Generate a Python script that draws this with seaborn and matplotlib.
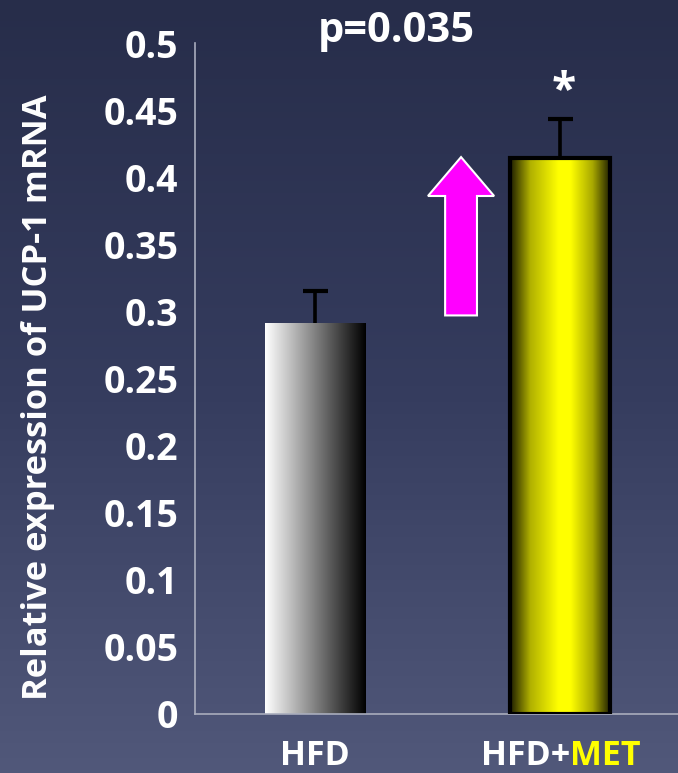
import numpy as np
import matplotlib
matplotlib.use("Agg")
import matplotlib.pyplot as plt
import seaborn as sns
import pandas as pd
from matplotlib.patches import FancyArrow
from matplotlib.colors import LinearSegmentedColormap

# ---- data ----
groups = ["HFD", "HFD+MET"]
means = [0.291, 0.414]
errors = [0.024, 0.029]
yticks = [0, 0.05, 0.1, 0.15, 0.2, 0.25, 0.3, 0.35, 0.4, 0.45, 0.5]
ytick_labels = ["0", "0.05", "0.1", "0.15", "0.2", "0.25", "0.3", "0.35", "0.4", "0.45", "0.5"]
ylabel = "Relative expression of UCP-1 mRNA"
p_label = "p=0.035"
sig_mark = "*"
arrow_from = 0.297
arrow_to = 0.415

sns.set_theme(style="white")
plt.rcParams["font.family"] = ["Open Sans", "DejaVu Sans"]
plt.rcParams["font.weight"] = "bold"

W, H = 678, 773
fig = plt.figure(figsize=(W / 100, H / 100), dpi=100)

# vertical background gradient
bg = fig.add_axes([0, 0, 1, 1], zorder=-10)
bg.axis("off")
grad = np.linspace(0, 1, 256)[:, None]
bg_cmap = LinearSegmentedColormap.from_list("bg", ["#272d4a", "#353c5e", "#51587a"])
bg.imshow(grad, aspect="auto", cmap=bg_cmap, extent=[0, 1, 0, 1], origin="upper")

ax = fig.add_axes([195 / W, 59 / H, 1 - 195 / W, 671 / H])
ax.patch.set_alpha(0)

df = pd.DataFrame({"group": groups, "value": means})
sns.barplot(data=df, x="group", y="value", ax=ax, width=0.41,
            color="white", errorbar=None, saturation=1)

bar_cmaps = [
    LinearSegmentedColormap.from_list("hfd", ["#ffffff", "#808080", "#000000"]),
    LinearSegmentedColormap.from_list(
        "met",
        [(0.0, "#1c1c00"), (0.2, "#b0b000"), (0.48, "#ffff00"),
         (0.6, "#ffff00"), (0.82, "#a8a800"), (1.0, "#1c1c00")]),
]
hgrad = np.linspace(0, 1, 256)[None, :]
for i, patch in enumerate(ax.patches[:2]):
    x0 = patch.get_x()
    w = patch.get_width()
    h = patch.get_height()
    patch.set_facecolor("none")
    patch.set_zorder(3)
    if i == 1:
        patch.set_edgecolor("black")
        patch.set_linewidth(3.0)
    else:
        patch.set_edgecolor("none")
        patch.set_linewidth(0)
    im = ax.imshow(hgrad, aspect="auto", cmap=bar_cmaps[i],
                   extent=[x0, x0 + w, 0, h], zorder=2.5, interpolation="bilinear")
    im.set_clip_path(patch)

# upper error bars: whisker plus a single cap on top
xpos = np.arange(len(groups))
tops = np.array(means) + np.array(errors)
ax.errorbar(x=xpos, y=means, yerr=[np.zeros(len(errors)), errors], fmt="none",
            ecolor="black", elinewidth=2.6, capsize=0, zorder=4)
ax.plot(xpos, tops, ls="none", marker="_", ms=18, mew=3.0, color="black", zorder=4)

# up arrow between the bars
arrow = FancyArrow(0.596, arrow_from, 0, arrow_to - arrow_from, width=0.13,
                   head_width=0.27, head_length=0.029, length_includes_head=True,
                   facecolor="#ff00ff", edgecolor="white", linewidth=1.5, zorder=5)
ax.add_patch(arrow)

ax.text(1.015, 0.4555, sig_mark, ha="center", va="baseline", color="white",
        fontsize=32, fontweight="bold")

ax.set_xlim(-0.49, 1.4816)
ax.set_ylim(0, 0.5)
ax.set_yticks(yticks)
ax.set_yticklabels(ytick_labels)
ax.set_xticks([0, 1])
ax.set_xticklabels(["", ""])
ax.set_xlabel("")
ax.set_ylabel("")

spine_color = "#a9adbd"
for side in ["top", "right"]:
    ax.spines[side].set_visible(False)
for side in ["left", "bottom"]:
    ax.spines[side].set_color(spine_color)
    ax.spines[side].set_linewidth(1.2)
ax.tick_params(axis="y", direction="in", length=10, width=1.2, color=spine_color,
               pad=12, labelsize=27, labelcolor="white")
ax.tick_params(axis="x", length=0)
for lab in ax.get_yticklabels():
    lab.set_fontweight("bold")

# category labels (MET highlighted)
trans = ax.get_xaxis_transform()
lab_y = -0.0762
ax.text(0, lab_y, "HFD", transform=trans, ha="center", va="baseline",
        color="white", fontsize=24.5, fontweight="bold", clip_on=False)
ax.text(1.04, lab_y, "HFD+", transform=trans, ha="right", va="baseline",
        color="white", fontsize=24.5, fontweight="bold", clip_on=False)
ax.text(1.04, lab_y, "MET", transform=trans, ha="left", va="baseline",
        color="#ffff00", fontsize=24.5, fontweight="bold", clip_on=False)

fig.text(38 / W, 1 - 397.5 / H, ylabel, rotation=90, ha="center", va="center",
         color="white", fontsize=24.8, fontweight="bold")
fig.text(396 / W, 1 - 42 / H, p_label, ha="center", va="baseline",
         color="white", fontsize=30, fontweight="bold")

fig.savefig("out.png", dpi=100)
